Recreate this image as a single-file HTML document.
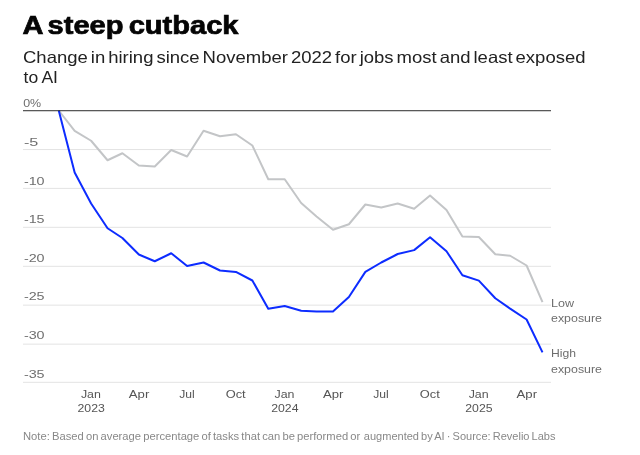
<!DOCTYPE html>
<html><head><meta charset="utf-8"><title>A steep cutback</title>
<style>
html,body{margin:0;padding:0;background:#fff;}
body{width:640px;height:455px;position:relative;overflow:hidden;font-family:"Liberation Sans",sans-serif;}
svg{position:absolute;left:0;top:0;will-change:transform;font-family:"Liberation Sans",sans-serif;}
.title{font-size:25px;font-weight:bold;fill:#050505;stroke:#050505;stroke-width:0.7px;word-spacing:-2.5px;}
.sub{font-size:16.5px;fill:#222;word-spacing:-1.9px;}
.yl{font-size:11.4px;fill:#6e6e6e;}
.xl{font-size:11.4px;fill:#555;text-anchor:middle;}
.lab{font-size:11.4px;fill:#6e6e6e;}
.note{font-size:10.5px;fill:#888;word-spacing:-0.9px;}
</style></head><body>
<svg width="640" height="455" viewBox="0 0 640 455">

<line x1="23" x2="551" y1="149.55" y2="149.55" stroke="#e3e3e3" stroke-width="1"/>
<line x1="23" x2="551" y1="188.40" y2="188.40" stroke="#e3e3e3" stroke-width="1"/>
<line x1="23" x2="551" y1="227.30" y2="227.30" stroke="#e3e3e3" stroke-width="1"/>
<line x1="23" x2="551" y1="266.30" y2="266.30" stroke="#e3e3e3" stroke-width="1"/>
<line x1="23" x2="551" y1="305.15" y2="305.15" stroke="#e3e3e3" stroke-width="1"/>
<line x1="23" x2="551" y1="344.15" y2="344.15" stroke="#e3e3e3" stroke-width="1"/>
<line x1="23" x2="551" y1="382.30" y2="382.30" stroke="#e3e3e3" stroke-width="1"/>
<path d="M58.75,110.50 L74.66,130.80 L91.11,140.75 L107.55,160.25 L122.40,153.25 L138.84,165.50 L154.76,166.50 L171.20,150.00 L187.11,156.50 L203.56,130.75 L220.00,136.25 L235.91,134.25 L252.36,145.50 L268.27,179.25 L284.71,179.25 L301.16,203.00 L316.54,216.50 L332.98,229.75 L348.89,224.25 L365.34,204.50 L381.25,207.50 L397.69,203.50 L414.14,208.75 L430.05,195.50 L446.49,210.10 L462.41,236.50 L478.85,237.00 L495.29,254.25 L510.14,255.75 L526.59,265.50 L542.50,302.20" fill="none" stroke="#c3c5c7" stroke-width="2" stroke-linejoin="round"/>
<path d="M58.75,110.50 L74.66,172.50 L91.11,203.50 L107.55,228.25 L122.40,238.00 L138.84,254.50 L154.76,261.25 L171.20,253.25 L187.11,266.00 L203.56,262.50 L220.00,270.50 L235.91,271.90 L252.36,280.50 L268.27,308.75 L284.71,306.00 L301.16,310.70 L316.54,311.50 L332.98,311.50 L348.89,297.00 L365.34,271.90 L381.25,262.50 L397.69,254.00 L414.14,250.10 L430.05,237.25 L446.49,251.25 L462.41,275.25 L478.85,280.60 L495.29,298.25 L510.14,308.60 L526.59,319.50 L542.50,352.40" fill="none" stroke="#0d2cff" stroke-width="2" stroke-linejoin="round"/>
<line x1="23" x2="551" y1="110.72" y2="110.72" stroke="#2b2b2b" stroke-width="1"/>
<text class="title" x="22.5" y="33.75" textLength="216" lengthAdjust="spacingAndGlyphs">A steep cutback</text>
<text class="sub" x="23" y="62.75" textLength="562.5" lengthAdjust="spacingAndGlyphs">Change in hiring since November 2022 for jobs most and least exposed</text>
<text class="sub" style="word-spacing:-0.6px" x="23.5" y="82.75" textLength="34.5" lengthAdjust="spacingAndGlyphs">to AI</text>
<text class="yl" x="23.2" y="106.65" textLength="18" lengthAdjust="spacingAndGlyphs">0%</text>
<text class="yl" x="23.9" y="145.80" textLength="14.4" lengthAdjust="spacingAndGlyphs">-5</text>
<text class="yl" x="23.9" y="184.60" textLength="20.7" lengthAdjust="spacingAndGlyphs">-10</text>
<text class="yl" x="23.9" y="223.30" textLength="20.7" lengthAdjust="spacingAndGlyphs">-15</text>
<text class="yl" x="23.9" y="261.80" textLength="20.7" lengthAdjust="spacingAndGlyphs">-20</text>
<text class="yl" x="23.9" y="300.30" textLength="20.7" lengthAdjust="spacingAndGlyphs">-25</text>
<text class="yl" x="23.9" y="339.30" textLength="20.7" lengthAdjust="spacingAndGlyphs">-30</text>
<text class="yl" x="23.9" y="378.10" textLength="20.7" lengthAdjust="spacingAndGlyphs">-35</text>
<text class="xl" x="90.91" y="398" textLength="20" lengthAdjust="spacingAndGlyphs">Jan</text>
<text class="xl" x="91.21" y="411.8" textLength="27.3" lengthAdjust="spacingAndGlyphs">2023</text>
<text class="xl" x="139.04" y="398" textLength="20.5" lengthAdjust="spacingAndGlyphs">Apr</text>
<text class="xl" x="186.91" y="398" textLength="15.5" lengthAdjust="spacingAndGlyphs">Jul</text>
<text class="xl" x="235.71" y="398" textLength="20" lengthAdjust="spacingAndGlyphs">Oct</text>
<text class="xl" x="284.51" y="398" textLength="20" lengthAdjust="spacingAndGlyphs">Jan</text>
<text class="xl" x="284.81" y="411.8" textLength="27.3" lengthAdjust="spacingAndGlyphs">2024</text>
<text class="xl" x="333.18" y="398" textLength="20.5" lengthAdjust="spacingAndGlyphs">Apr</text>
<text class="xl" x="381.05" y="398" textLength="15.5" lengthAdjust="spacingAndGlyphs">Jul</text>
<text class="xl" x="429.85" y="398" textLength="20" lengthAdjust="spacingAndGlyphs">Oct</text>
<text class="xl" x="478.65" y="398" textLength="20" lengthAdjust="spacingAndGlyphs">Jan</text>
<text class="xl" x="478.95" y="411.8" textLength="27.3" lengthAdjust="spacingAndGlyphs">2025</text>
<text class="xl" x="526.79" y="398" textLength="20.5" lengthAdjust="spacingAndGlyphs">Apr</text>
<text class="lab" x="551" y="306.75" textLength="23" lengthAdjust="spacingAndGlyphs">Low</text>
<text class="lab" x="551" y="321.75" textLength="51" lengthAdjust="spacingAndGlyphs">exposure</text>
<text class="lab" x="551" y="357" textLength="25" lengthAdjust="spacingAndGlyphs">High</text>
<text class="lab" x="551" y="372.5" textLength="51" lengthAdjust="spacingAndGlyphs">exposure</text>
<text class="note" x="23" y="440.2" textLength="337.3" lengthAdjust="spacingAndGlyphs">Note: Based on average percentage of tasks that can be performed or</text>
<text class="note" x="363.8" y="440.2" textLength="191.7" lengthAdjust="spacingAndGlyphs">augmented by AI &#183; Source: Revelio Labs</text>
</svg>
</body></html>
